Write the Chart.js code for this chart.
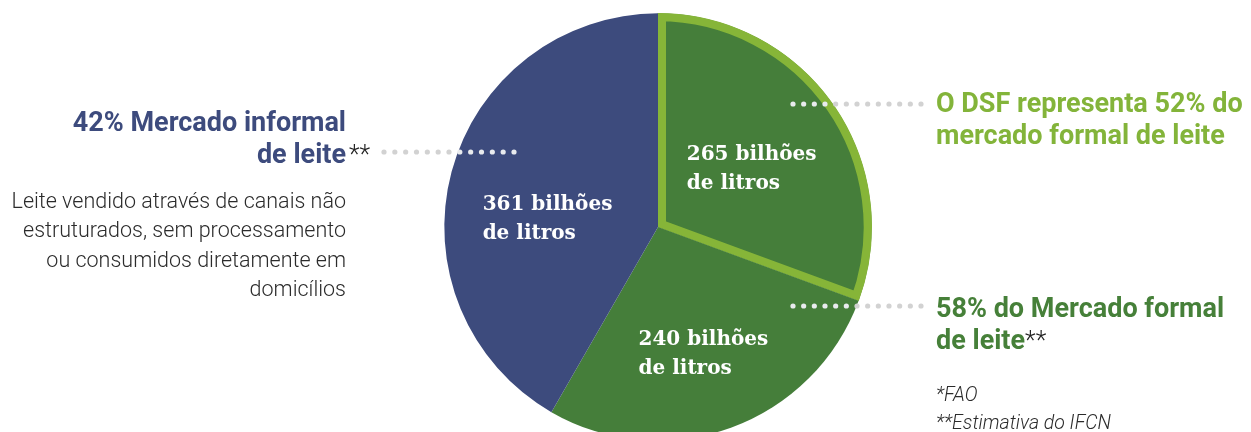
<!DOCTYPE html>
<html lang="pt-BR">
<head>
<meta charset="utf-8">
<title>Mercado de leite</title>
<script src="https://cdn.jsdelivr.net/npm/chart.js@4.4.1/dist/chart.umd.min.js"></script>
<style>
    html, body { margin: 0; padding: 0; background: #fff; overflow: hidden; }
    body { width: 1251px; height: 432px; position: relative; font-family: Roboto, "Noto Sans", sans-serif; }
    #chartWrap { position: absolute; left: 0; top: 0; width: 1251px; height: 460px; }
    .title { position: absolute; font-weight: 700; font-size: 27px; line-height: 31.5px; white-space: nowrap; }
    .ast { position: absolute; font-weight: 300; color: #222; font-size: 25px; }
    #leftTitle { right: 905px; top: 107px; text-align: right; color: #3d4b7d; }
    #leftDesc { position: absolute; right: 905px; top: 186px; text-align: right; font-weight: 300; font-size: 21.5px; line-height: 29.3px; color: #2b2b2b; white-space: nowrap; }
    #dsfTitle { left: 936px; top: 88px; color: #83b43a; }
    #formalTitle { left: 936px; top: 293px; color: #468039; }
    #notes { position: absolute; left: 936px; top: 381px; font-style: italic; font-weight: 300; font-size: 19.5px; line-height: 28px; color: #2b2b2b; white-space: nowrap; }
</style>
</head>
<body>
<div id="chartWrap"><canvas id="milkChart" width="1251" height="460"></canvas></div>

<div class="title" id="leftTitle">42% Mercado informal<br><span style="position:relative">de leite<span class="ast" style="left:100%;padding-left:3px">**</span></span></div>
<div id="leftDesc">Leite vendido através de canais não<br>estruturados, sem processamento<br>ou consumidos diretamente em<br>domicílios</div>

<div class="title" id="dsfTitle">O DSF representa 52% do<br>mercado formal de leite</div>
<div class="title" id="formalTitle">58% do Mercado formal<br>de leite<span class="ast" style="position:static">**</span></div>
<div id="notes">*FAO<br>**Estimativa do IFCN</div>

<script>
// volumes (bilhões de litros), clockwise from the top
const segments = ['DSF (mercado formal)', 'Outros (mercado formal)', 'Mercado informal'];
const volumes = [265, 240, 361];
const volumeLabels = ['265 bilhões', '240 bilhões', '361 bilhões'];

document.addEventListener('DOMContentLoaded', function () {
    const ctx = document.getElementById('milkChart').getContext('2d');

    // Slice labels: left aligned text, nudged from the arc centroid
    const labelOffsets = [[-59, -6], [-56, 17], [-72, 11]];
    const sliceLabels = {
        id: 'sliceLabels',
        afterDatasetsDraw(chart) {
            const c = chart.ctx;
            const arcs = chart.getDatasetMeta(0).data;
            c.save();
            c.fillStyle = '#ffffff';
            c.font = 'bold 20px "DejaVu Serif", serif';
            c.textAlign = 'left';
            c.textBaseline = 'alphabetic';
            arcs.forEach((arc, i) => {
                const p = arc.tooltipPosition();
                const x = p.x + labelOffsets[i][0];
                const y = p.y + labelOffsets[i][1];
                c.fillText(volumeLabels[i], x, y);
                c.fillText('de litros', x, y + 29);
            });
            c.restore();
        }
    };

    // Dotted leader lines
    const leaders = [
        { y: 152, x0: 384, x1: 514 },
        { y: 104, x0: 793, x1: 921 },
        { y: 306, x0: 793, x1: 921 }
    ];
    const dottedLeaders = {
        id: 'dottedLeaders',
        afterDatasetsDraw(chart) {
            const c = chart.ctx;
            const arc = chart.getDatasetMeta(0).data[0];
            c.save();
            leaders.forEach(l => {
                const n = 13;
                const step = (l.x1 - l.x0) / (n - 1);
                for (let k = 0; k < n; k++) {
                    const x = l.x0 + k * step;
                    const inside = Math.hypot(x - arc.x, l.y - arc.y) < arc.outerRadius - 2;
                    c.fillStyle = inside ? '#e9ebee' : '#d2d2d2';
                    c.beginPath();
                    c.arc(x, l.y, 2.6, 0, Math.PI * 2);
                    c.fill();
                }
            });
            c.restore();
        }
    };

    new Chart(ctx, {
        type: 'pie',
        data: {
            labels: segments,
            datasets: [{
                data: volumes,
                backgroundColor: ['#457e3a', '#457e3a', '#3d4b7d'],
                borderColor: ['#86b538', '#457e3a', '#3d4b7d'],
                borderWidth: [8, 0, 0],
                hoverBorderWidth: [8, 0, 0],
                borderAlign: 'inner'
            }]
        },
        options: {
            responsive: false,
            animation: false,
            events: [],
            layout: { padding: { left: 444, right: 379, top: 13, bottom: 19 } },
            plugins: {
                legend: { display: false },
                tooltip: { enabled: false }
            }
        },
        plugins: [sliceLabels, dottedLeaders]
    });
});
</script>
</body>
</html>
